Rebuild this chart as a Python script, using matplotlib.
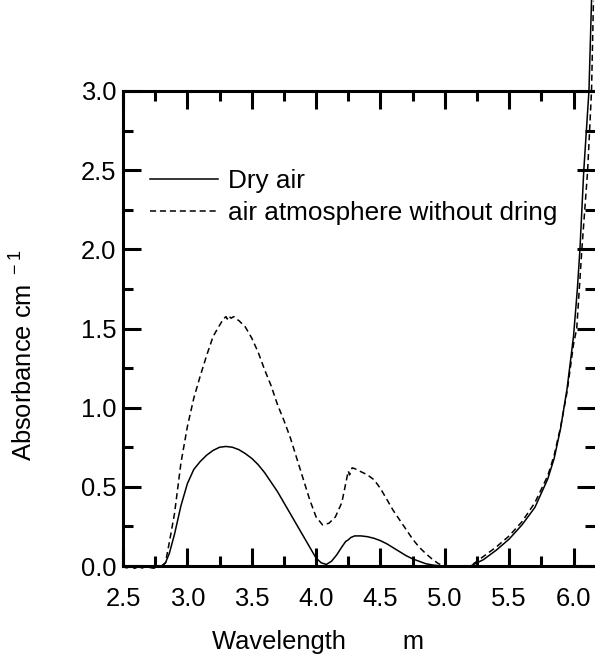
import matplotlib
matplotlib.use("Agg")
import matplotlib.pyplot as plt
from matplotlib.ticker import MultipleLocator

plt.rcParams['font.family'] = ['Liberation Sans', 'DejaVu Sans']
plt.rcParams['mathtext.fontset'] = 'custom'
plt.rcParams['mathtext.rm'] = 'Liberation Sans'
plt.rcParams['mathtext.default'] = 'regular'

# Dry air spectrum (wavelength in um, absorbance in cm^-1)
wl_dry = [2.50, 2.53, 2.56, 2.59, 2.62, 2.65, 2.68, 2.71, 2.74, 2.77, 2.80,
          2.83, 2.86, 2.90, 2.95, 3.00, 3.05, 3.10, 3.15, 3.20, 3.25, 3.30,
          3.35, 3.40, 3.45, 3.50, 3.55, 3.60, 3.65, 3.70, 3.75, 3.80, 3.85,
          3.90, 3.95, 4.00, 4.04, 4.08, 4.12, 4.16, 4.20, 4.23, 4.25, 4.27,
          4.30, 4.35, 4.40, 4.45, 4.50, 4.55, 4.60, 4.65, 4.70, 4.75, 4.80,
          4.85, 4.90, 4.95, 5.00, 5.10, 5.20, 5.25, 5.30, 5.40, 5.50, 5.60,
          5.70, 5.80, 5.85, 5.90, 5.95, 6.00, 6.03, 6.05, 6.08, 6.10, 6.12,
          6.14]
abs_dry = [-0.005, -0.012, 0.0, -0.015, -0.004, -0.013, 0.002, -0.010, -0.014, 0.0, 0.0,
           0.02, 0.08, 0.20, 0.38, 0.52, 0.61, 0.66, 0.70, 0.73, 0.75, 0.755,
           0.75, 0.735, 0.71, 0.68, 0.64, 0.59, 0.53, 0.47, 0.40, 0.33, 0.26,
           0.19, 0.12, 0.05, 0.02, 0.01, 0.03, 0.07, 0.12, 0.155, 0.165, 0.18,
           0.19, 0.19, 0.185, 0.175, 0.16, 0.14, 0.115, 0.09, 0.065, 0.045, 0.03,
           0.015, 0.007, 0.002, 0.0, 0.0, 0.0, 0.02, 0.04, 0.10, 0.17, 0.26,
           0.37, 0.55, 0.68, 0.87, 1.12, 1.45, 1.75, 2.00, 2.50, 2.75, 3.00,
           3.57]

# Air atmosphere without drying
wl_wet = [2.80, 2.83, 2.86, 2.90, 2.95, 3.00, 3.05, 3.10, 3.15, 3.20, 3.25,
          3.28, 3.30, 3.31, 3.32, 3.34, 3.36, 3.38, 3.40, 3.45, 3.50, 3.55,
          3.60, 3.65, 3.70, 3.75, 3.80, 3.85, 3.90, 3.95, 4.00, 4.05, 4.10,
          4.15, 4.20, 4.23, 4.25, 4.26, 4.28, 4.30, 4.35, 4.40, 4.45, 4.50,
          4.55, 4.60, 4.65, 4.70, 4.75, 4.80, 4.85, 4.90, 4.95, 5.00, 5.10,
          5.20, 5.25, 5.30, 5.40, 5.50, 5.60, 5.70, 5.80, 5.85, 5.90, 5.95,
          6.00, 6.025, 6.065, 6.11, 6.14, 6.155]
abs_wet = [0.0, 0.02, 0.15, 0.33, 0.65, 0.88, 1.06, 1.20, 1.33, 1.45, 1.52,
           1.56, 1.575, 1.56, 1.58, 1.565, 1.575, 1.56, 1.55, 1.51, 1.44, 1.35,
           1.24, 1.14, 1.02, 0.92, 0.81, 0.68, 0.55, 0.42, 0.31, 0.26, 0.27,
           0.31, 0.40, 0.52, 0.60, 0.575, 0.62, 0.615, 0.595, 0.575, 0.545, 0.49,
           0.42, 0.35, 0.29, 0.23, 0.17, 0.12, 0.08, 0.045, 0.015, 0.0, 0.0,
           0.0, 0.03, 0.06, 0.12, 0.19, 0.28, 0.40, 0.57, 0.70, 0.88, 1.10,
           1.40, 1.50, 2.00, 2.50, 3.00, 3.57]

fig = plt.figure(figsize=(5.95, 6.62), dpi=100)
ax = fig.add_axes([123/595, 96/662, 472/595, 475/662])

ax.plot(wl_dry, abs_dry, color='black', lw=1.1, clip_on=False, label='Dry air')
ax.plot(wl_wet, abs_wet, color='black', lw=1.1, ls=(0, (4, 2.5)), clip_on=False,
        label='air atmosphere without dring')

ax.set_xlim(2.5, 6.167)
ax.set_ylim(0, 3.0)
ax.xaxis.set_major_locator(MultipleLocator(0.5))
ax.xaxis.set_minor_locator(MultipleLocator(0.25))
ax.yaxis.set_major_locator(MultipleLocator(0.5))
ax.yaxis.set_minor_locator(MultipleLocator(0.25))
ax.xaxis.set_major_formatter(plt.FormatStrFormatter('%.1f'))
ax.yaxis.set_major_formatter(plt.FormatStrFormatter('%.1f'))

ax.tick_params(which='both', direction='in', top=True, right=True, width=2.2,
               labelsize=18.4)
ax.tick_params(which='major', length=13)
ax.tick_params(which='minor', length=7.5)
ax.tick_params(axis='x', pad=15)
ax.tick_params(axis='y', pad=5)
for side in ['left', 'bottom', 'top']:
    ax.spines[side].set_linewidth(2.2)
ax.spines['right'].set_visible(False)

ax.set_xlabel('Wavelength        m', fontsize=18.4)
ax.xaxis.set_label_coords(0.413, -0.135)
ax.set_ylabel('Absorbance cm$^{\\ -1}$', fontsize=18.4)
ax.yaxis.set_label_coords(-0.18, 0.444)

ax.legend(loc='upper left', bbox_to_anchor=(150/595, 1 - 169/662),
          bbox_transform=fig.transFigure, frameon=False, fontsize=18.8,
          borderpad=0, borderaxespad=0, handlelength=2.62, handletextpad=0.36,
          labelspacing=0.3)

fig.savefig('out.png', dpi=100)
